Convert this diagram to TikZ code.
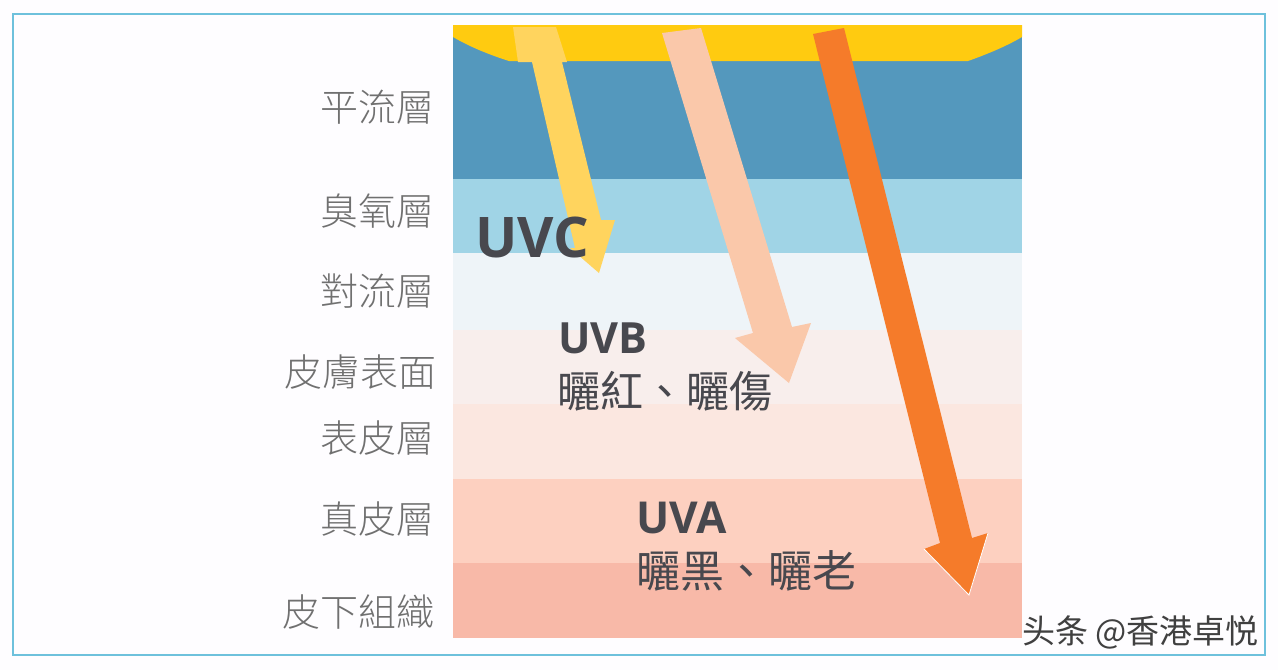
\documentclass[tikz,border=0pt]{standalone}
\usepackage{fontspec}
\setmainfont{Open Sans}
\newfontfamily\tcfont{Noto Sans CJK TC}
\newfontfamily\tclight{Noto Sans CJK TC Light}
\newfontfamily\scfont{Noto Sans CJK SC}
\definecolor{frameblue}{HTML}{6EC1DC}
\definecolor{paper}{HTML}{FEFDFF}
\definecolor{sun}{HTML}{FFCB10}
\definecolor{strato}{HTML}{5498BD}
\definecolor{ozone}{HTML}{A0D4E6}
\definecolor{tropo}{HTML}{EEF4F8}
\definecolor{surface}{HTML}{F8EEEC}
\definecolor{epi}{HTML}{FBE7E0}
\definecolor{dermis}{HTML}{FDD0C0}
\definecolor{subcut}{HTML}{F8B9A8}
\definecolor{uvcfill}{HTML}{FFD45E}
\definecolor{uvbfill}{HTML}{FAC8AA}
\definecolor{uvafill}{HTML}{F57B2A}
\definecolor{labelgray}{HTML}{707070}
\definecolor{darktext}{HTML}{48484E}
\begin{document}
\begin{tikzpicture}[x=1pt,y=-1pt,
    layer label/.style={anchor=east,inner sep=0pt,text=labelgray,font=\fontsize{38}{38}\selectfont\tclight},
    uv name/.style={anchor=west,inner sep=0pt,text=darktext,font=\fontsize{44}{44}\selectfont\bfseries},
    uv effect/.style={anchor=west,inner sep=0pt,text=darktext,font=\fontsize{43}{43}\selectfont\tcfont}]

    \useasboundingbox (0,0) rectangle (1278,670);
    \fill[paper] (0,0) rectangle (1278,670);
    \draw[frameblue,line width=2] (13,14) rectangle (1265,655);

    \fill[strato] (453,25) rectangle (1022,179);
    \fill[ozone] (453,179) rectangle (1022,253);
    \fill[tropo] (453,253) rectangle (1022,330);
    \fill[surface] (453,330) rectangle (1022,404);
    \fill[epi] (453,404) rectangle (1022,479);
    \fill[dermis] (453,479) rectangle (1022,563);
    \fill[subcut] (453,563) rectangle (1022,638);
    \fill[sun] (453,25) -- (1022,25) -- (1022,37) .. controls (1005,47) and (985,55) .. (968,61)
        -- (509,61) .. controls (490,55) and (470,47) .. (453,37) -- cycle;

    \fill[uvcfill] (513,27) -- (556,27) -- (567,62) -- (562,62) -- (601,220) -- (615,220) -- (599,273)
        -- (570,248) -- (575,248) -- (532,62) -- (518,62) -- cycle;
    \fill[uvbfill] (662,33) -- (701,28) -- (792,327) -- (811,323) -- (789,383)
        -- (735,338) -- (753,333) -- cycle;
    \fill[uvafill] (813,34) -- (844,28) -- (972,538) -- (988,533) -- (969,595)
        -- (924,549) -- (940,543) -- cycle;
    \draw[white,line width=0.8] (924,549) -- (969,595) -- (988,533);

    \node[layer label] (strat) at (435,107) {平流層};
    \node[layer label] (oz) at (435,211) {臭氧層};
    \node[layer label] (trop) at (435,291) {對流層};
    \node[layer label] (skin) at (437,372) {皮膚表面};
    \node[layer label] (epid) at (435,438) {表皮層};
    \node[layer label] (derm) at (435,519) {真皮層};
    \node[layer label] (sub) at (435,612) {皮下組織};

    \node[uv name,font=\fontsize{56}{56}\selectfont\bfseries] (uvc) at (475,237) {UVC};
    \node[uv name,font=\fontsize{43}{43}\selectfont\bfseries] (uvb) at (558,338) {UVB};
    \node[uv effect] (uvbtext) at (557,391) {曬紅、曬傷};
    \node[uv name] (uva) at (636,518) {UVA};
    \node[uv effect,font=\fontsize{44}{44}\selectfont\tcfont] (uvatext) at (636,571) {曬黑、曬老};

    \node[anchor=east,inner sep=0pt,text=black!75,font=\fontsize{33}{33}\selectfont\scfont] (mark) at (1259,632) {头条 @香港卓悦};
\end{tikzpicture}
\end{document}
